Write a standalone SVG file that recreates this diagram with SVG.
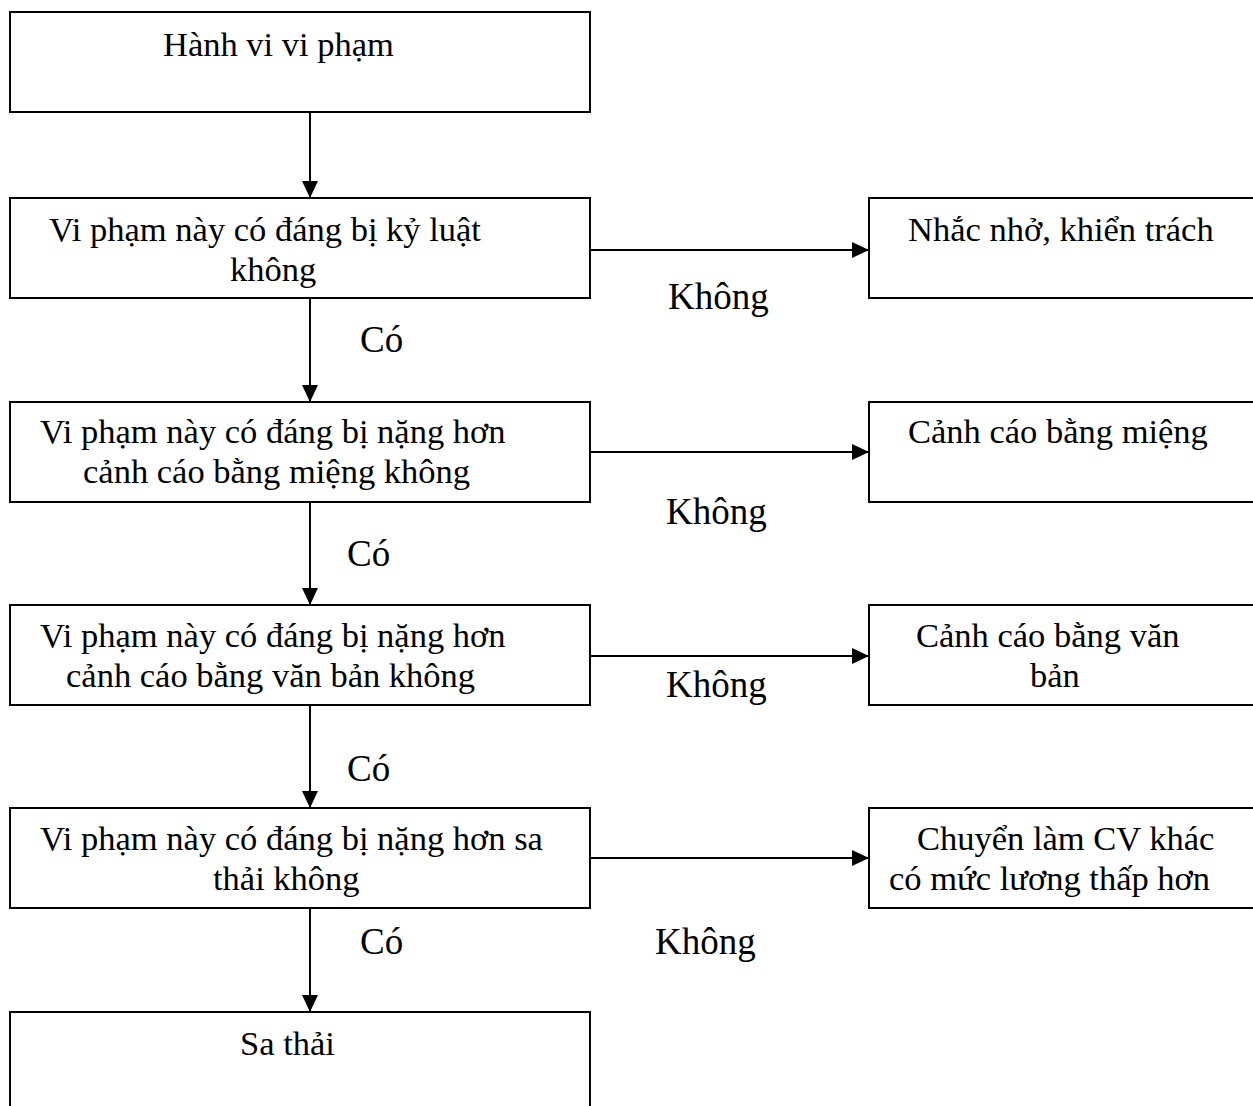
<svg xmlns="http://www.w3.org/2000/svg" width="1253" height="1106" viewBox="0 0 1253 1106">
  <style>
    .box { fill: #ffffff; stroke: #000000; stroke-width: 2; }
    .t { font-family: "Liberation Serif", "Times New Roman", serif; font-size: 34.5px; fill: #000000; }
    .lbl { font-family: "Liberation Serif", "Times New Roman", serif; font-size: 37px; fill: #000000; }
    .edge { stroke: #000000; stroke-width: 2; fill: none; marker-end: url(#head); }
  </style>
  <defs>
    <marker id="head" markerUnits="userSpaceOnUse" markerWidth="18" markerHeight="16" refX="17" refY="8" orient="auto">
      <path d="M0,0 L17,8 L0,16 Z" fill="#000000"/>
    </marker>
  </defs>
  <rect width="1253" height="1106" fill="#ffffff"/>

  <!-- decision chain on the left -->
  <g id="n-hanh-vi">
    <rect class="box" x="10" y="12" width="580" height="100"/>
    <text class="t" x="163" y="56">Hành vi vi phạm</text>
  </g>
  <g id="n-ky-luat">
    <rect class="box" x="10" y="198" width="580" height="100"/>
    <text class="t" x="49" y="241">Vi phạm này có đáng bị kỷ luật</text>
    <text class="t" x="230" y="281">không</text>
  </g>
  <g id="n-mieng">
    <rect class="box" x="10" y="402" width="580" height="100"/>
    <text class="t" x="40" y="443">Vi phạm này có đáng bị nặng hơn</text>
    <text class="t" x="83" y="483">cảnh cáo bằng miệng không</text>
  </g>
  <g id="n-van-ban">
    <rect class="box" x="10" y="605" width="580" height="100"/>
    <text class="t" x="40" y="647">Vi phạm này có đáng bị nặng hơn</text>
    <text class="t" x="66" y="687">cảnh cáo bằng văn bản không</text>
  </g>
  <g id="n-sa-thai-q">
    <rect class="box" x="10" y="808" width="580" height="100"/>
    <text class="t" x="40" y="850">Vi phạm này có đáng bị nặng hơn sa</text>
    <text class="t" x="213" y="890">thải không</text>
  </g>
  <g id="n-sa-thai">
    <rect class="box" x="10" y="1012" width="580" height="120"/>
    <text class="t" x="240" y="1055">Sa thải</text>
  </g>

  <!-- outcomes on the right -->
  <g id="r-nhac-nho">
    <rect class="box" x="869" y="198" width="400" height="100"/>
    <text class="t" x="908" y="241">Nhắc nhở, khiển trách</text>
  </g>
  <g id="r-mieng">
    <rect class="box" x="869" y="402" width="400" height="100"/>
    <text class="t" x="908" y="443">Cảnh cáo bằng miệng</text>
  </g>
  <g id="r-van-ban">
    <rect class="box" x="869" y="605" width="400" height="100"/>
    <text class="t" x="916" y="647">Cảnh cáo bằng văn</text>
    <text class="t" x="1030" y="687">bản</text>
  </g>
  <g id="r-chuyen">
    <rect class="box" x="869" y="808" width="400" height="100"/>
    <text class="t" x="917" y="850">Chuyển làm CV khác</text>
    <text class="t" x="889" y="890">có mức lương thấp hơn</text>
  </g>

  <!-- connectors -->
  <g id="connectors">
    <line class="edge" x1="310" y1="112" x2="310" y2="198"/>
    <line class="edge" x1="310" y1="298" x2="310" y2="402"/>
    <line class="edge" x1="310" y1="502" x2="310" y2="605"/>
    <line class="edge" x1="310" y1="705" x2="310" y2="808"/>
    <line class="edge" x1="310" y1="908" x2="310" y2="1012"/>
    <line class="edge" x1="590" y1="250" x2="869" y2="250"/>
    <line class="edge" x1="590" y1="452" x2="869" y2="452"/>
    <line class="edge" x1="590" y1="656" x2="869" y2="656"/>
    <line class="edge" x1="590" y1="858" x2="869" y2="858"/>
  </g>

  <!-- branch labels -->
  <g id="labels">
    <text class="lbl" x="668" y="309">Không</text>
    <text class="lbl" x="360" y="352">Có</text>
    <text class="lbl" x="666" y="524">Không</text>
    <text class="lbl" x="347" y="566">Có</text>
    <text class="lbl" x="666" y="697">Không</text>
    <text class="lbl" x="347" y="781">Có</text>
    <text class="lbl" x="360" y="954">Có</text>
    <text class="lbl" x="655" y="954">Không</text>
  </g>
</svg>
